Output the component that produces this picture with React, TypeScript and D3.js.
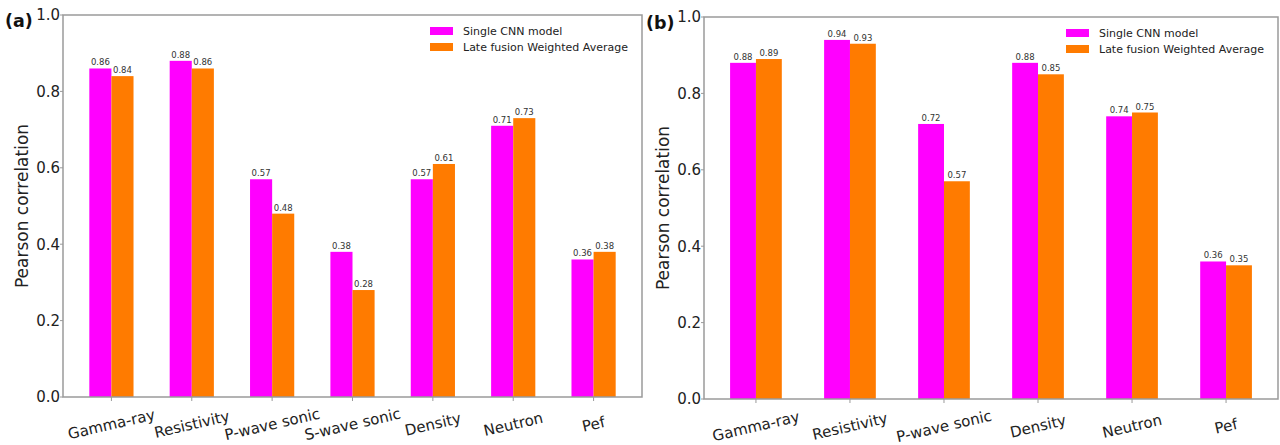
import { useEffect, useRef } from 'react';
import * as d3 from 'd3';

const catsA = ['Gamma-ray', 'Resistivity', 'P-wave sonic', 'S-wave sonic', 'Density', 'Neutron', 'Pef'];
const singleA = [0.86, 0.88, 0.57, 0.38, 0.57, 0.71, 0.36];
const fusionA = [0.84, 0.86, 0.48, 0.28, 0.61, 0.73, 0.38];

const catsB = ['Gamma-ray', 'Resistivity', 'P-wave sonic', 'Density', 'Neutron', 'Pef'];
const singleB = [0.88, 0.94, 0.72, 0.88, 0.74, 0.36];
const fusionB = [0.89, 0.93, 0.57, 0.85, 0.75, 0.35];

const yTicks = [0, 0.2, 0.4, 0.6, 0.8, 1.0];
const seriesNames = ['Single CNN model', 'Late fusion Weighted Average'];
const colors = ['#ff00ff', '#ff7b00'];

const FONT = 'DejaVu Sans, sans-serif';

function drawPanel(svg, cats, single, fusion, box, tag) {
  const { left, right, top, bottom } = box;
  const w = 0.275; // bar width in category units
  const n = cats.length;
  const pad = 0.05 * (n - 1 + 2 * w);

  const x = d3.scaleLinear().domain([-w - pad, n - 1 + w + pad]).range([left, right]);
  const y = d3.scaleLinear().domain([0, 1]).range([bottom, top]);

  const g = svg.append('g');

  // bars + value labels
  [single, fusion].forEach((vals, si) => {
    const off = si === 0 ? -w : 0;
    g.selectAll(null)
      .data(vals)
      .enter()
      .append('rect')
      .attr('x', (d, i) => x(i + off))
      .attr('y', (d) => y(d))
      .attr('width', x(w) - x(0))
      .attr('height', (d) => y(0) - y(d))
      .attr('fill', colors[si]);

    g.selectAll(null)
      .data(vals)
      .enter()
      .append('text')
      .attr('x', (d, i) => x(i + off + w / 2))
      .attr('y', (d) => y(d) - 3)
      .attr('text-anchor', 'middle')
      .style('font-family', FONT)
      .style('font-size', '8.5px')
      .style('fill', '#333')
      .text((d) => d.toFixed(2));
  });

  // frame
  g.append('rect')
    .attr('x', left)
    .attr('y', top)
    .attr('width', right - left)
    .attr('height', bottom - top)
    .attr('fill', 'none')
    .attr('stroke', '#9a9a9a')
    .attr('stroke-width', 1.5);

  // y ticks
  yTicks.forEach((t) => {
    g.append('line')
      .attr('x1', left - 3)
      .attr('x2', left)
      .attr('y1', y(t))
      .attr('y2', y(t))
      .attr('stroke', '#9a9a9a');
    g.append('text')
      .attr('x', left - 3)
      .attr('y', y(t))
      .attr('dy', '0.36em')
      .attr('text-anchor', 'end')
      .style('font-family', FONT)
      .style('font-size', '15px')
      .style('fill', '#222')
      .text(t.toFixed(1));
  });

  // x ticks
  cats.forEach((c, i) => {
    g.append('line')
      .attr('x1', x(i))
      .attr('x2', x(i))
      .attr('y1', bottom)
      .attr('y2', bottom + 4)
      .attr('stroke', '#9a9a9a');
    g.append('text')
      .attr('transform', `translate(${x(i)},${bottom + 27}) rotate(-13)`)
      .attr('text-anchor', 'middle')
      .attr('dy', '0.36em')
      .style('font-family', FONT)
      .style('font-size', '15px')
      .style('fill', '#222')
      .text(c);
  });

  // y label
  g.append('text')
    .attr('transform', `translate(${left - 41},${(top + bottom) / 2}) rotate(-90)`)
    .attr('text-anchor', 'middle')
    .attr('dy', '0.36em')
    .style('font-family', FONT)
    .style('font-size', '17px')
    .style('fill', '#222')
    .text('Pearson correlation');

  // panel tag
  g.append('text')
    .attr('x', left - 58)
    .attr('y', top + 12)
    .style('font-family', FONT)
    .style('font-size', '17.5px')
    .style('font-weight', 'bold')
    .style('fill', '#111')
    .text(tag);

  // legend
  seriesNames.forEach((s, i) => {
    g.append('rect')
      .attr('x', right - 212)
      .attr('y', top + 12 + i * 16)
      .attr('width', 23)
      .attr('height', 8)
      .attr('fill', colors[i]);
    g.append('text')
      .attr('x', right - 179)
      .attr('y', top + 16 + i * 16)
      .attr('dy', '0.36em')
      .style('font-family', FONT)
      .style('font-size', '11px')
      .style('fill', '#222')
      .text(s);
  });
}

export default function App() {
  const svgRef = useRef(null);

  useEffect(() => {
    const svg = d3.select(svgRef.current);
    svg.selectAll('*').remove();
    drawPanel(svg, catsA, singleA, fusionA, { left: 63, right: 642, top: 15, bottom: 397 }, '(a)');
    drawPanel(svg, catsB, singleB, fusionB, { left: 704, right: 1278, top: 17, bottom: 399 }, '(b)');
  }, []);

  return (
    <svg
      ref={svgRef}
      width={1280}
      height={445}
      style={{ position: 'absolute', left: 0, top: 0, background: '#fff' }}
    />
  );
}
